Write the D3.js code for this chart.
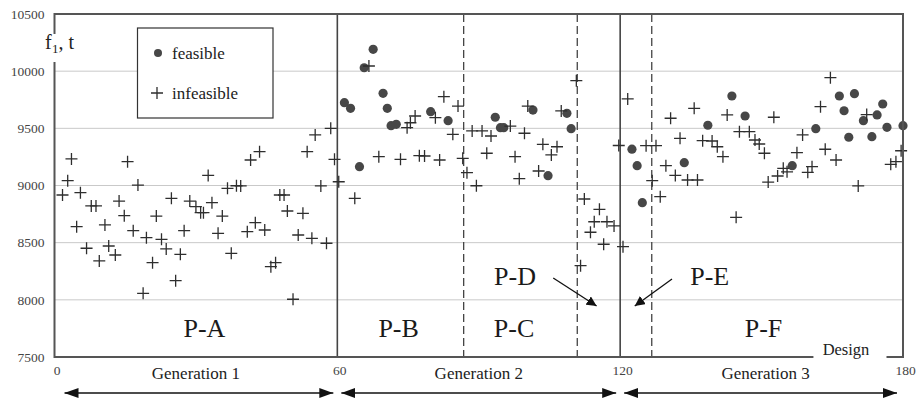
<!DOCTYPE html>
<html><head><meta charset="utf-8">
<script src="https://cdn.jsdelivr.net/npm/d3@7"></script>
<style>html,body{margin:0;padding:0;background:#fff;}svg{display:block;font-family:"Liberation Serif","DejaVu Serif",serif;}</style>
</head><body><svg id="c" width="919" height="398"></svg>
<script>
// ---- data (design index, f1 in t) ----
const feasibleDesign = [61.5,62.8,64.7,65.7,67.6,69.7,70.6,71.4,72.5,79.8,83.5,93.5,94.6,95.3,101.5,104.7,108.7,109.6,
  122.5,123.6,124.7,133.6,138.6,143.7,146.5,156.5,161.5,166.5,167.5,168.5,169.7,171.6,173.4,174.5,175.7,176.6,180];
const feasibleF1 = [9724,9675,9165,10030,10191,9806,9675,9523,9535,9646,9567,9597,9506,9506,9660,9086,9631,9497,
  9318,9173,8850,9200,9527,9783,9608,9173,9497,9783,9654,9422,9803,9567,9427,9617,9713,9509,9523];

const infeasibleDesign = [1.7,2.8,3.6,4.7,5.5,6.8,7.8,8.8,9.5,10.7,11.5,12.9,13.7,14.8,15.5,16.7,17.7,18.8,19.5,20.8,
  21.6,22.7,23.7,24.8,25.7,26.7,27.5,28.7,30.0,31.0,31.6,32.6,33.4,34.7,35.6,36.7,37.5,38.6,39.5,40.9,
  41.6,42.6,43.5,44.6,45.9,46.9,47.8,48.7,49.4,50.6,51.7,52.7,53.6,54.6,55.3,56.5,57.7,58.6,59.4,
  60.3,63.7,66.7,68.8,73.4,74.8,75.5,76.5,77.4,78.5,80.8,81.7,82.6,84.5,85.6,86.6,87.5,88.6,89.5,90.7,
  91.7,92.6,96.7,97.7,98.6,99.7,100.4,102.7,103.6,105.4,106.6,107.5,110.7,111.6,112.4,113.7,114.5,115.6,116.5,117.2,
  118.7,119.7,120.6,
  121.6,125.5,126.8,127.6,128.5,129.7,130.7,131.7,132.7,134.3,135.7,136.4,137.5,139.5,140.6,141.8,142.7,144.6,145.3,147.4,
  148.6,149.5,150.6,151.4,152.6,153.4,154.6,155.4,157.5,158.7,159.8,160.7,162.5,163.5,164.6,165.8,170.5,172.3,177.4,178.5,179.6];
const infeasibleF1 = [8917,9042,9232,8640,8937,8451,8821,8821,8340,8655,8471,8392,8864,8736,9208,8605,9004,8057,8544,8325,
  8733,8529,8445,8888,8168,8398,8605,8864,8815,8762,8762,9088,8850,8582,8733,8975,8407,8998,8996,8596,
  9223,8675,9296,8611,8290,8325,8917,8917,8777,8005,8567,8757,9296,8538,9442,8996,8495,9500,9229,
  9033,8888,10045,9252,9229,9506,9549,9608,9261,9258,9593,9223,9777,9448,9695,9238,9112,9477,8998,9477,
  9282,9433,9520,9252,9060,9457,9695,9127,9360,9267,9339,9652,9917,8299,8882,8591,8683,8792,8486,8683,
  8646,9350,8465,
  9757,9348,9042,9348,8902,9173,9588,9088,9413,9048,9675,9048,9392,9389,9339,9252,9617,8722,9471,9471,
  9398,9363,9282,9030,9597,9083,9150,9120,9287,9442,9115,9165,9689,9317,9943,9223,8996,9620,9185,9208,9304];

const yTicks = [7500,8000,8500,9000,9500,10000,10500];
const xTicks = [0,60,120,180];
const solidDividers = [60,120];
const dashedDividers = [86.8,110.9,126.7];
const regionNames = ["P-A","P-B","P-C","P-D","P-E","P-F"];
const regionX = [31.8,73,97.5,97.7,139,150.4];
const regionY = [7675,7675,7675,8130,8130,7675];
const generationNames = ["Generation 1","Generation 2","Generation 3"];
const generationStart = [0,60,120];
const generationEnd = [60,120,180];

// ---- drawing ----
const svg = d3.select("#c");
const x = d3.scaleLinear().domain([0,180]).range([54.5,903]);
const y = d3.scaleLinear().domain([7500,10500]).range([357,14]);
const L = x(0), R = x(180), T = y(10500), B = y(7500);

// gridlines
svg.append("g").selectAll("line").data(yTicks.filter(d=>d>7500&&d<10500)).join("line")
  .attr("x1",L).attr("x2",R).attr("y1",d=>y(d)).attr("y2",d=>y(d))
  .attr("stroke","#c9c9c9").attr("stroke-width",1);

// y axis labels
const yAxis = d3.axisLeft(y).tickValues(yTicks).tickSize(0).tickPadding(10).tickFormat(d3.format("d"));
const ya = svg.append("g").attr("transform",`translate(${L},0)`).call(yAxis);
ya.select(".domain").remove();
ya.selectAll("text").attr("font-family","Liberation Serif").attr("font-size",13.5).attr("fill","#444");

// x axis labels
const xAxis = d3.axisBottom(x).tickValues(xTicks).tickSize(0).tickPadding(8).tickFormat(d3.format("d"));
const xa = svg.append("g").attr("transform",`translate(2,${B})`).call(xAxis);
xa.select(".domain").remove();
xa.selectAll("text").attr("font-family","Liberation Serif").attr("font-size",13.5).attr("fill","#444");

// dividers
svg.append("g").selectAll("line").data(dashedDividers).join("line")
  .attr("x1",d=>x(d)).attr("x2",d=>x(d)).attr("y1",T).attr("y2",B)
  .attr("stroke","#444").attr("stroke-width",1.3).attr("stroke-dasharray","8,4");
svg.append("g").selectAll("line").data(solidDividers).join("line")
  .attr("x1",d=>x(d)).attr("x2",d=>x(d)).attr("y1",T).attr("y2",B)
  .attr("stroke","#444").attr("stroke-width",1.6);

// points
svg.append("g").selectAll("circle").data(d3.range(feasibleDesign.length)).join("circle")
  .attr("cx",i=>x(feasibleDesign[i])).attr("cy",i=>y(feasibleF1[i])).attr("r",4.6).attr("fill","#474747");
svg.append("g").selectAll("path").data(d3.range(infeasibleDesign.length)).join("path")
  .attr("d",i=>{const cx=x(infeasibleDesign[i]), cy=y(infeasibleF1[i]);return `M${cx-6},${cy}H${cx+6}M${cx},${cy-6}V${cy+6}`;})
  .attr("stroke","#2e2e2e").attr("stroke-width",1.3).attr("fill","none");

// frame (bottom has a gap for "Design")
svg.append("path").attr("d",`M${x(161)},${B}H${L}V${T}H${R}V${B}H${x(176.5)}`)
  .attr("fill","none").attr("stroke","#555").attr("stroke-width",2);

// axis titles (label sits on a white patch that interrupts the frame)
svg.append("rect").attr("x",43).attr("y",34).attr("width",38).attr("height",28).attr("fill","#fff");
svg.append("text").attr("x",45).attr("y",49).attr("font-size",20).attr("fill","#222").text("f");
svg.append("text").attr("x",52).attr("y",53).attr("font-size",13).attr("fill","#222").text("1");
svg.append("text").attr("x",58.5).attr("y",49).attr("font-size",20).attr("fill","#222").text(", t");
svg.append("text").attr("x",846).attr("y",355).attr("text-anchor","middle").attr("font-size",16.5).attr("fill","#222").text("Design");

// legend
svg.append("rect").attr("x",137.5).attr("y",28).attr("width",135.5).attr("height",90)
  .attr("fill","#fff").attr("stroke","#333").attr("stroke-width",1.2);
svg.append("circle").attr("cx",158).attr("cy",53).attr("r",4).attr("fill","#474747");
svg.append("path").attr("d","M151,93H163M157,87V99").attr("stroke","#2e2e2e").attr("stroke-width",1.3);
svg.append("text").attr("x",172).attr("y",59).attr("font-size",17).attr("fill","#222").text("feasible");
svg.append("text").attr("x",172).attr("y",99).attr("font-size",17).attr("fill","#222").text("infeasible");

// region labels
svg.append("g").selectAll("text").data(d3.range(regionNames.length)).join("text")
  .attr("x",i=>x(regionX[i])).attr("y",i=>y(regionY[i])).attr("text-anchor","middle")
  .attr("font-size",26).attr("fill","#1a1a1a").text(i=>regionNames[i]);

// arrowheads
const defs = svg.append("defs");
defs.append("marker").attr("id","ah").attr("viewBox","0 0 10 10").attr("refX",10).attr("refY",5)
  .attr("markerWidth",10).attr("markerHeight",10).attr("markerUnits","userSpaceOnUse").attr("orient","auto-start-reverse")
  .append("path").attr("d","M0,0L10,5L0,10Z").attr("fill","#111");
defs.append("marker").attr("id","ah2").attr("viewBox","0 0 14 10").attr("refX",14).attr("refY",5)
  .attr("markerWidth",14).attr("markerHeight",10).attr("markerUnits","userSpaceOnUse").attr("orient","auto-start-reverse")
  .append("path").attr("d","M0,0L14,5L0,10Z").attr("fill","#111");

// callout arrows P-D, P-E
svg.append("line").attr("x1",x(105.8)).attr("y1",y(8191)).attr("x2",x(115)).attr("y2",y(7946))
  .attr("stroke","#111").attr("stroke-width",1.3).attr("marker-end","url(#ah)");
svg.append("line").attr("x1",x(131)).attr("y1",y(8182)).attr("x2",x(123.1)).attr("y2",y(7946))
  .attr("stroke","#111").attr("stroke-width",1.3).attr("marker-end","url(#ah)");

// generation labels & arrows
svg.append("g").selectAll("text").data(d3.range(3)).join("text")
  .attr("x",i=>(x(generationStart[i])+x(generationEnd[i]))/2+(i===2?4:0)).attr("y",379).attr("text-anchor","middle")
  .attr("font-size",17).attr("fill","#222").text(i=>generationNames[i]);
svg.append("g").selectAll("line").data(d3.range(3)).join("line")
  .attr("x1",i=>x(generationStart[i])+(i===0?10:4)).attr("x2",i=>x(generationEnd[i])-(i===2?6:4))
  .attr("y1",393).attr("y2",393).attr("stroke","#111").attr("stroke-width",1.5)
  .attr("marker-start","url(#ah2)").attr("marker-end","url(#ah2)");
</script></body></html>
